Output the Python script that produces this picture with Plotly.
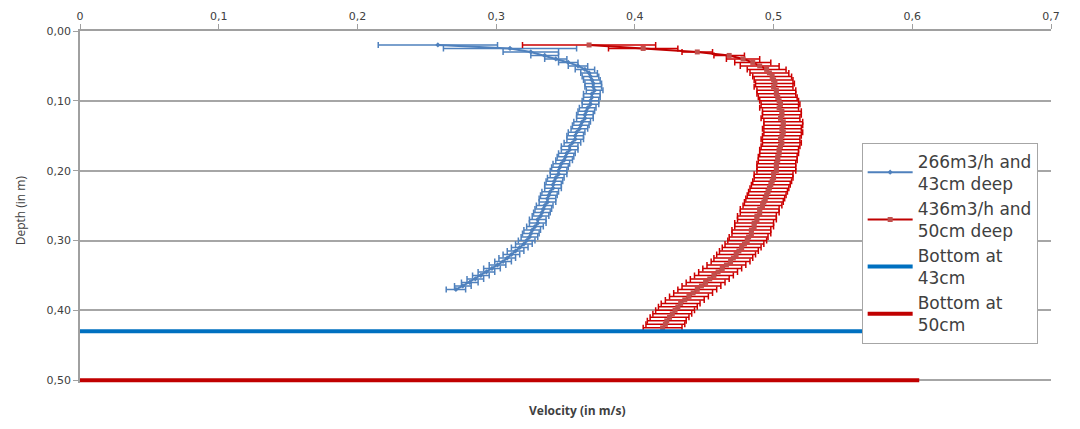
import plotly.graph_objects as go

# ---------------- data ----------------
depth_266 = [0.020, 0.025, 0.030, 0.035, 0.040, 0.045, 0.050, 0.055, 0.060, 0.065,
             0.070, 0.075, 0.080, 0.085, 0.090, 0.095, 0.100, 0.105, 0.110, 0.115,
             0.120, 0.125, 0.130, 0.135, 0.140, 0.145, 0.150, 0.155, 0.160, 0.165,
             0.170, 0.175, 0.180, 0.185, 0.190, 0.195, 0.200, 0.205, 0.210, 0.215,
             0.220, 0.225, 0.230, 0.235, 0.240, 0.245, 0.250, 0.255, 0.260, 0.265,
             0.270, 0.275, 0.280, 0.285, 0.290, 0.295, 0.300, 0.305, 0.310, 0.315,
             0.320, 0.325, 0.330, 0.335, 0.340, 0.345, 0.350, 0.355, 0.360, 0.365,
             0.370]
vel_266 = [0.258, 0.310, 0.325, 0.335, 0.343, 0.352, 0.359, 0.364, 0.367, 0.368,
           0.369, 0.370, 0.370, 0.371, 0.369, 0.369, 0.368, 0.368, 0.366, 0.365,
           0.364, 0.364, 0.362, 0.361, 0.360, 0.358, 0.357, 0.357, 0.355, 0.353,
           0.353, 0.351, 0.350, 0.349, 0.347, 0.346, 0.345, 0.345, 0.343, 0.342,
           0.341, 0.341, 0.339, 0.338, 0.337, 0.337, 0.335, 0.334, 0.333, 0.332,
           0.330, 0.330, 0.328, 0.326, 0.325, 0.324, 0.322, 0.320, 0.317, 0.314,
           0.311, 0.308, 0.305, 0.301, 0.297, 0.293, 0.289, 0.285, 0.281, 0.276,
           0.271]
err_266 = [0.043, 0.048, 0.020, 0.010, 0.008, 0.007, 0.007, 0.007, 0.006, 0.006,
           0.006, 0.006, 0.006, 0.006, 0.006, 0.006, 0.006, 0.006, 0.006, 0.006,
           0.006, 0.006, 0.006, 0.006, 0.006, 0.006, 0.006, 0.006, 0.006, 0.006,
           0.006, 0.006, 0.006, 0.006, 0.006, 0.006, 0.006, 0.006, 0.006, 0.006,
           0.006, 0.006, 0.006, 0.006, 0.006, 0.006, 0.006, 0.006, 0.006, 0.006,
           0.006, 0.006, 0.006, 0.006, 0.006, 0.006, 0.006, 0.006, 0.006, 0.006,
           0.006, 0.006, 0.006, 0.006, 0.006, 0.006, 0.006, 0.006, 0.006, 0.006,
           0.007]

depth_436 = [0.020, 0.025, 0.030, 0.035, 0.040, 0.045, 0.050, 0.055, 0.060, 0.065,
             0.070, 0.075, 0.080, 0.085, 0.090, 0.095, 0.100, 0.105, 0.110, 0.115,
             0.120, 0.125, 0.130, 0.135, 0.140, 0.145, 0.150, 0.155, 0.160, 0.165,
             0.170, 0.175, 0.180, 0.185, 0.190, 0.195, 0.200, 0.205, 0.210, 0.215,
             0.220, 0.225, 0.230, 0.235, 0.240, 0.245, 0.250, 0.255, 0.260, 0.265,
             0.270, 0.275, 0.280, 0.285, 0.290, 0.295, 0.300, 0.305, 0.310, 0.315,
             0.320, 0.325, 0.330, 0.335, 0.340, 0.345, 0.350, 0.355, 0.360, 0.365,
             0.370, 0.375, 0.380, 0.385, 0.390, 0.395, 0.400, 0.405, 0.410, 0.415,
             0.420, 0.425]
vel_436 = [0.367, 0.406, 0.445, 0.468, 0.478, 0.485, 0.490, 0.495, 0.497, 0.499,
           0.500, 0.501, 0.500, 0.502, 0.502, 0.503, 0.504, 0.505, 0.504, 0.506,
           0.506, 0.505, 0.507, 0.507, 0.506, 0.507, 0.506, 0.505, 0.506, 0.505,
           0.504, 0.504, 0.503, 0.503, 0.502, 0.502, 0.502, 0.500, 0.500, 0.499,
           0.498, 0.497, 0.496, 0.495, 0.494, 0.493, 0.492, 0.490, 0.490, 0.488,
           0.488, 0.486, 0.486, 0.484, 0.484, 0.482, 0.481, 0.479, 0.477, 0.475,
           0.473, 0.471, 0.469, 0.466, 0.463, 0.460, 0.457, 0.454, 0.451, 0.448,
           0.445, 0.442, 0.439, 0.436, 0.433, 0.431, 0.429, 0.427, 0.425, 0.423,
           0.422, 0.420]
err_436 = [0.048, 0.025, 0.011, 0.011, 0.012, 0.013, 0.014, 0.014, 0.014, 0.014,
           0.014, 0.014, 0.014, 0.014, 0.014, 0.014, 0.014, 0.014, 0.014, 0.014,
           0.014, 0.014, 0.014, 0.014, 0.014, 0.014, 0.014, 0.014, 0.014, 0.014,
           0.014, 0.014, 0.014, 0.014, 0.014, 0.014, 0.014, 0.014, 0.014, 0.014,
           0.014, 0.014, 0.014, 0.014, 0.014, 0.014, 0.014, 0.014, 0.014, 0.014,
           0.014, 0.014, 0.014, 0.014, 0.014, 0.014, 0.014, 0.014, 0.014, 0.014,
           0.014, 0.014, 0.014, 0.014, 0.014, 0.014, 0.014, 0.014, 0.014, 0.014,
           0.014, 0.014, 0.014, 0.014, 0.014, 0.014, 0.014, 0.014, 0.014, 0.014,
           0.014, 0.014]

bottom_x = [0.0, 0.605]
bottom_43 = [0.43, 0.43]
bottom_50 = [0.50, 0.50]

x_ticks = [0, 0.1, 0.2, 0.3, 0.4, 0.5, 0.6, 0.7]
x_ticklabels = ["0", "0,1", "0,2", "0,3", "0,4", "0,5", "0,6", "0,7"]
y_ticks = [0.0, 0.1, 0.2, 0.3, 0.4, 0.5]
y_ticklabels = ["0,00", "0,10", "0,20", "0,30", "0,40", "0,50"]

names = ["266m3/h and<br>43cm deep", "436m3/h and<br>50cm deep",
         "Bottom at<br>43cm", "Bottom at<br>50cm"]

# ---------------- figure ----------------
fig = go.Figure()

fig.add_trace(go.Scatter(
    x=vel_266, y=depth_266, mode="lines+markers", name=names[0],
    line=dict(color="#4F81BD", width=2),
    marker=dict(symbol="diamond", size=4, color="#4F81BD"),
    error_x=dict(type="data", array=err_266, color="#4F81BD", thickness=1.5, width=3),
))
fig.add_trace(go.Scatter(
    x=vel_436, y=depth_436, mode="lines+markers", name=names[1],
    line=dict(color="#C00000", width=2),
    marker=dict(symbol="square", size=5, color="#C0504D"),
    error_x=dict(type="data", array=err_436, color="#CC0000", thickness=1.5, width=3),
))
fig.add_trace(go.Scatter(
    x=bottom_x, y=bottom_43, mode="lines", name=names[2],
    line=dict(color="#0070C0", width=4),
))
fig.add_trace(go.Scatter(
    x=bottom_x, y=bottom_50, mode="lines", name=names[3],
    line=dict(color="#C00000", width=4),
))

axis_font = dict(family="DejaVu Sans", size=11, color="#404040")

fig.update_layout(
    width=1080, height=429,
    margin=dict(l=72, r=37, t=23, b=54),
    paper_bgcolor="white", plot_bgcolor="white",
    showlegend=True,
    legend=dict(
        x=0.805, y=0.683, xanchor="left", yanchor="top",
        bgcolor="white", bordercolor="#A6A6A6", borderwidth=1,
        font=dict(family="DejaVu Sans", size=17, color="#404040"),
        tracegroupgap=3, itemwidth=45,
    ),
    xaxis=dict(
        side="top", range=[0, 0.7], automargin=False,
        tickvals=x_ticks, ticktext=x_ticklabels,
        showline=True, linecolor="#A0A0A0", linewidth=1.5,
        ticks="outside", ticklen=5, tickcolor="#A0A0A0",
        showgrid=False, zeroline=False,
        tickfont=axis_font,
    ),
    yaxis=dict(
        range=[0.504, 0.0], automargin=False,
        tickvals=y_ticks, ticktext=y_ticklabels,
        showline=True, linecolor="#A0A0A0", linewidth=1.5,
        ticks="outside", ticklen=5, tickcolor="#A0A0A0",
        showgrid=True, gridcolor="#A6A6A6", gridwidth=1.5,
        zeroline=False,
        tickfont=axis_font,
    ),
    annotations=[
        dict(text="Depth (in m)", x=-0.061, y=0.49, xref="paper", yref="paper",
             xanchor="center", yanchor="middle",
             textangle=-90, showarrow=False,
             font=dict(family="Open Sans", size=12, color="#404040")),
        dict(text="<b>Velocity (in m/s)</b>", x=0.512, y=-0.077, xref="paper", yref="paper",
             xanchor="center", yanchor="middle",
             showarrow=False,
             font=dict(family="Open Sans", size=12, color="#404040")),
    ],
)

fig.write_html("out.html")
